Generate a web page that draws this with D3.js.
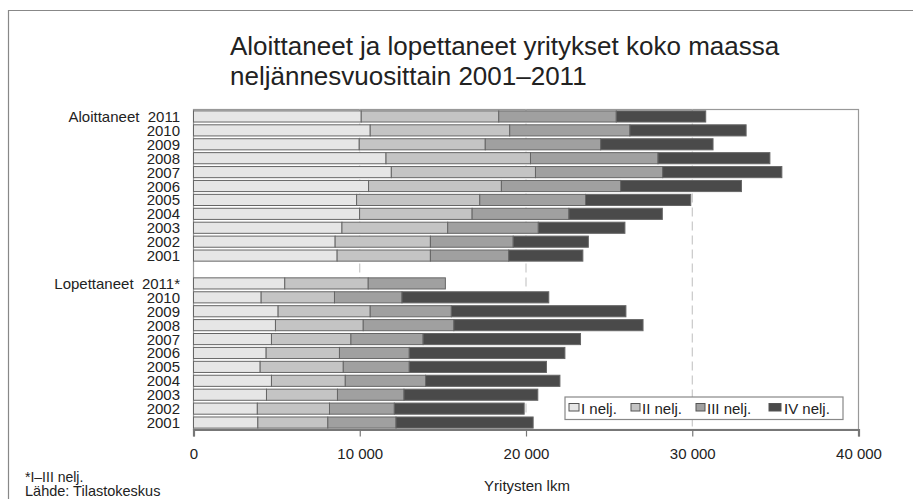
<!DOCTYPE html>
<html><head><meta charset="utf-8">
<script src="https://cdn.jsdelivr.net/npm/d3@7"></script>
<style>
body{margin:0;background:#fff;}
text{font-family:Arial,"Liberation Sans",sans-serif;fill:#222;}
</style></head>
<body><svg id="c" width="913" height="499"></svg>
<script>
const quarters = ["I nelj.", "II nelj.", "III nelj.", "IV nelj."];
const years = ["2011","2010","2009","2008","2007","2006","2005","2004","2003","2002","2001"];
// Aloittaneet (started), quarters I..IV, years 2011..2001
const startQ1 = [10090,10630,9970,11580,11900,10530,9810,9990,8930,8520,8640];
const startQ2 = [8270,8390,7580,8690,8670,7990,7410,6770,6360,5730,5610];
const startQ3 = [7070,7230,6940,7670,7650,7170,6360,5820,5450,4980,4710];
const startQ4 = [5380,6990,6760,6730,7170,7270,6330,5620,5210,4520,4460];
// Lopettaneet (closed), 2011 only I-III
const endQ1 = [5490,4070,5090,4930,4690,4370,4010,4690,4390,3840,3870];
const endQ2 = [5020,4410,5540,5280,4780,4410,5000,4440,4270,4340,4210];
const endQ3 = [4640,4060,4880,5450,4340,4200,3970,4830,4000,3900,4100];
const endQ4 = [0,8830,10500,11380,9470,9360,8250,8080,8050,7810,8250];
const xTicks = [0,10000,20000,30000,40000];
const colors = ["#e6e6e6","#c4c4c4","#a0a0a0","#4a4a4a"];

const rows = [];
years.forEach((y,i)=>rows.push({key:"A"+y, label:(i===0?"Aloittaneet  2011":y), v:[startQ1[i],startQ2[i],startQ3[i],startQ4[i]]}));
rows.push({key:"gap", label:"", v:[0,0,0,0]});
years.forEach((y,i)=>rows.push({key:"L"+y, label:(i===0?"Lopettaneet  2011*":y), v:[endQ1[i],endQ2[i],endQ3[i],endQ4[i]]}));

const svg = d3.select("#c");
// outer frame
svg.append("path").attr("d","M8.5,499 L8.5,10.5 L920,10.5").attr("fill","none").attr("stroke","#888").attr("stroke-width",1.2);

const L=193.5, R=858.5, T=109.5, B=429.5;
const x = d3.scaleLinear().domain([0,40000]).range([L,R]);
const y = d3.scaleBand().domain(rows.map(r=>r.key)).range([T,B]).paddingInner(0.2).paddingOuter(0.1);

// title
svg.append("text").attr("x",230).attr("y",55).attr("font-size",26).text("Aloittaneet ja lopettaneet yritykset koko maassa");
svg.append("text").attr("x",230).attr("y",85).attr("font-size",26).text("neljännesvuosittain 2001–2011");

// plot box
svg.append("rect").attr("x",L).attr("y",T).attr("width",R-L).attr("height",B-T).attr("fill","none").attr("stroke","#999").attr("stroke-width",1.2);

// grid lines
svg.append("g").selectAll("line").data(xTicks.filter(d=>d>0&&d<40000)).join("line")
  .attr("x1",d=>x(d)).attr("x2",d=>x(d)).attr("y1",T).attr("y2",B)
  .attr("stroke","#bdbdbd").attr("stroke-width",1).attr("stroke-dasharray","9,5");

// bars
const stack = d3.stack().keys([0,1,2,3]).value((d,k)=>d.v[k]);
const series = stack(rows.filter(r=>r.key!=="gap"));
const g = svg.append("g");
series.forEach((s,k)=>{
  g.selectAll(null).data(s.filter(d=>d[1]>d[0])).join("rect")
    .attr("x",d=>x(d[0])).attr("y",d=>y(d.data.key))
    .attr("width",d=>x(d[1])-x(d[0])).attr("height",y.bandwidth())
    .attr("fill",colors[k]).attr("stroke","#666").attr("stroke-width",1);
});

// y labels
svg.append("g").selectAll("text").data(rows).join("text")
  .attr("x",180).attr("y",d=>y(d.key)+y.bandwidth()/2+5.5)
  .attr("text-anchor","end").attr("font-size",15).attr("xml:space","preserve")
  .style("white-space","pre").text(d=>d.label);

// x axis
const xa = svg.append("g").attr("transform",`translate(0,${B})`)
  .call(d3.axisBottom(x).tickValues(xTicks).tickSize(7).tickPadding(12)
    .tickFormat(d=>d3.format(",")(d).replace(/,/g," ")));
xa.select(".domain").attr("stroke","#777").attr("stroke-width",2.2);
xa.selectAll(".tick line").attr("stroke","#777").attr("stroke-width",1.2);
xa.selectAll(".tick text").attr("font-size",15).attr("font-family","Arial, 'Liberation Sans', sans-serif").attr("fill","#222");
svg.append("text").attr("x",527).attr("y",491).attr("text-anchor","middle").attr("font-size",15).text("Yritysten lkm");

// footnotes
svg.append("text").attr("x",25).attr("y",482).attr("font-size",14).text("*I–III nelj.");
svg.append("text").attr("x",25).attr("y",496).attr("font-size",14.5).text("Lähde: Tilastokeskus");

// legend
const lg = svg.append("g");
lg.append("rect").attr("x",565).attr("y",397).attr("width",278).attr("height",22.5).attr("fill","#fff").attr("stroke","#888").attr("stroke-width",1.2);
const sx=[569,631,696,769], sw=[10,9,9,12], tx=[581,642,707,784];
quarters.forEach((q,i)=>{
  lg.append("rect").attr("x",sx[i]).attr("y",403.5).attr("width",sw[i]).attr("height",7.5).attr("fill",colors[i]).attr("stroke","#555").attr("stroke-width",1);
  lg.append("text").attr("x",tx[i]).attr("y",414).attr("font-size",15).text(q);
});
</script></body></html>
